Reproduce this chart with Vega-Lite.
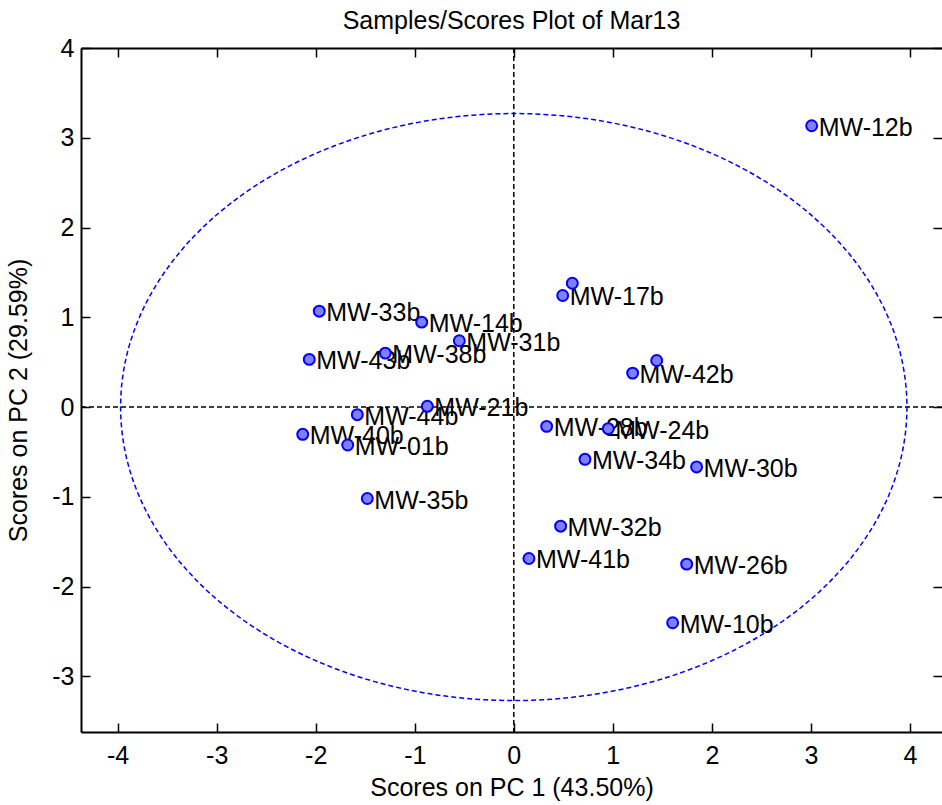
{
  "$schema": "https://vega.github.io/schema/vega-lite/v6.json",
  "autosize": {"type": "none"},
  "padding": {"left": 81, "top": 48, "right": 0, "bottom": 73},
  "width": 861,
  "height": 684,
  "background": "white",
  "title": {"text": "Samples/Scores Plot of Mar13", "font": "Liberation Sans", "fontSize": 25, "fontWeight": "normal", "color": "black", "baseline": "alphabetic", "offset": -18, "anchor": "middle", "frame": "group"},
  "config": {
    "view": {"stroke": null},
    "axis": {
      "grid": false,
      "domainColor": "black",
      "domainWidth": 2,
      "tickColor": "black",
      "tickWidth": 1.5,
      "tickSize": -9,
      "labelFont": "Liberation Sans",
      "labelFontSize": 25,
      "labelColor": "black",
      "labelExpr": "'' + datum.value",
      "titleFont": "Liberation Sans",
      "titleFontSize": 25,
      "titleFontWeight": "normal",
      "titleColor": "black"
    }
  },
  "datasets": {
    "points": [
      {"sample": "MW-12b", "pc1": 3.008, "pc2": 3.134},
      {"sample": "", "pc1": 0.591, "pc2": 1.379},
      {"sample": "MW-17b", "pc1": 0.494, "pc2": 1.243},
      {"sample": "MW-33b", "pc1": -1.964, "pc2": 1.068},
      {"sample": "MW-14b", "pc1": -0.930, "pc2": 0.946},
      {"sample": "MW-31b", "pc1": -0.550, "pc2": 0.739},
      {"sample": "MW-38b", "pc1": -1.297, "pc2": 0.601},
      {"sample": "MW-43b", "pc1": -2.065, "pc2": 0.531},
      {"sample": "", "pc1": 1.443, "pc2": 0.519},
      {"sample": "MW-42b", "pc1": 1.200, "pc2": 0.378},
      {"sample": "MW-21b", "pc1": -0.873, "pc2": 0.008},
      {"sample": "MW-44b", "pc1": -1.580, "pc2": -0.085},
      {"sample": "MW-28b", "pc1": 0.332, "pc2": -0.215},
      {"sample": "MW-24b", "pc1": 0.954, "pc2": -0.241},
      {"sample": "MW-40b", "pc1": -2.131, "pc2": -0.304},
      {"sample": "MW-01b", "pc1": -1.677, "pc2": -0.423},
      {"sample": "MW-34b", "pc1": 0.719, "pc2": -0.582},
      {"sample": "MW-30b", "pc1": 1.846, "pc2": -0.667},
      {"sample": "MW-35b", "pc1": -1.479, "pc2": -1.019},
      {"sample": "MW-32b", "pc1": 0.473, "pc2": -1.327},
      {"sample": "MW-41b", "pc1": 0.153, "pc2": -1.687},
      {"sample": "MW-26b", "pc1": 1.746, "pc2": -1.750},
      {"sample": "MW-10b", "pc1": 1.604, "pc2": -2.403}
    ],
    "ellipse": [
      {"i": 0, "ex": 3.970, "ey": 0},
      {"i": 1, "ex": 3.910, "ey": 0.568},
      {"i": 2, "ex": 3.731, "ey": 1.118},
      {"i": 3, "ex": 3.438, "ey": 1.635},
      {"i": 4, "ex": 3.041, "ey": 2.102},
      {"i": 5, "ex": 2.552, "ey": 2.505},
      {"i": 6, "ex": 1.985, "ey": 2.832},
      {"i": 7, "ex": 1.358, "ey": 3.073},
      {"i": 8, "ex": 0.689, "ey": 3.220},
      {"i": 9, "ex": 0, "ey": 3.270},
      {"i": 10, "ex": -0.689, "ey": 3.220},
      {"i": 11, "ex": -1.358, "ey": 3.073},
      {"i": 12, "ex": -1.985, "ey": 2.832},
      {"i": 13, "ex": -2.552, "ey": 2.505},
      {"i": 14, "ex": -3.041, "ey": 2.102},
      {"i": 15, "ex": -3.438, "ey": 1.635},
      {"i": 16, "ex": -3.731, "ey": 1.118},
      {"i": 17, "ex": -3.910, "ey": 0.568},
      {"i": 18, "ex": -3.970, "ey": 0},
      {"i": 19, "ex": -3.910, "ey": -0.568},
      {"i": 20, "ex": -3.731, "ey": -1.118},
      {"i": 21, "ex": -3.438, "ey": -1.635},
      {"i": 22, "ex": -3.041, "ey": -2.102},
      {"i": 23, "ex": -2.552, "ey": -2.505},
      {"i": 24, "ex": -1.985, "ey": -2.832},
      {"i": 25, "ex": -1.358, "ey": -3.073},
      {"i": 26, "ex": -0.689, "ey": -3.220},
      {"i": 27, "ex": 0, "ey": -3.270},
      {"i": 28, "ex": 0.689, "ey": -3.220},
      {"i": 29, "ex": 1.358, "ey": -3.073},
      {"i": 30, "ex": 1.985, "ey": -2.832},
      {"i": 31, "ex": 2.552, "ey": -2.505},
      {"i": 32, "ex": 3.041, "ey": -2.102},
      {"i": 33, "ex": 3.438, "ey": -1.635},
      {"i": 34, "ex": 3.731, "ey": -1.118},
      {"i": 35, "ex": 3.910, "ey": -0.568}
    ],
    "zero": [{"v": 0}]
  },
  "resolve": {"axis": {"x": "independent", "y": "independent"}},
  "layer": [
    {
      "data": {"name": "zero"},
      "mark": {"type": "rule", "color": "black", "strokeWidth": 1.5, "strokeDash": [5, 3]},
      "encoding": {
        "x": {"field": "v", "type": "quantitative", "scale": {"domain": [-4.37, 4.324], "nice": false, "zero": false}, "axis": null}
      }
    },
    {
      "data": {"name": "zero"},
      "mark": {"type": "rule", "color": "black", "strokeWidth": 1.5, "strokeDash": [5, 3]},
      "encoding": {
        "y": {"field": "v", "type": "quantitative", "scale": {"domain": [-3.62, 4], "nice": false, "zero": false}, "axis": null}
      }
    },
    {
      "data": {"name": "ellipse"},
      "mark": {"type": "line", "color": "#0000ff", "strokeWidth": 1.5, "strokeDash": [5, 3], "interpolate": "cardinal-closed"},
      "encoding": {
        "x": {"field": "ex", "type": "quantitative", "axis": {"orient": "top", "labels": false, "title": null, "values": [-4, -3, -2, -1, 0, 1, 2, 3, 4], "minExtent": 0, "maxExtent": 0}},
        "y": {"field": "ey", "type": "quantitative", "axis": {"orient": "right", "labels": false, "title": null, "domain": false, "values": [-3, -2, -1, 0, 1, 2, 3, 4], "minExtent": 0, "maxExtent": 0}},
        "order": {"field": "i", "type": "quantitative"}
      }
    },
    {
      "data": {"name": "points"},
      "mark": {"type": "text", "align": "left", "baseline": "middle", "dx": 7, "dy": 2, "font": "Liberation Sans", "fontSize": 25, "color": "black"},
      "encoding": {
        "x": {"field": "pc1", "type": "quantitative", "axis": null},
        "y": {"field": "pc2", "type": "quantitative", "axis": null},
        "text": {"field": "sample"}
      }
    },
    {
      "data": {"name": "points"},
      "mark": {"type": "point", "shape": "circle", "filled": true, "fill": "#7f7fff", "stroke": "#0000ff", "strokeWidth": 2, "size": 120, "opacity": 1},
      "encoding": {
        "x": {"field": "pc1", "type": "quantitative", "axis": {"orient": "bottom", "title": "Scores on PC 1 (43.50%)", "values": [-4, -3, -2, -1, 0, 1, 2, 3, 4], "labelPadding": 20, "titlePadding": 7}},
        "y": {"field": "pc2", "type": "quantitative", "axis": {"orient": "left", "title": "Scores on PC 2 (29.59%)", "values": [-3, -2, -1, 0, 1, 2, 3, 4], "labelPadding": 16, "titlePadding": 20, "titleY": 352}}
      }
    }
  ]
}
